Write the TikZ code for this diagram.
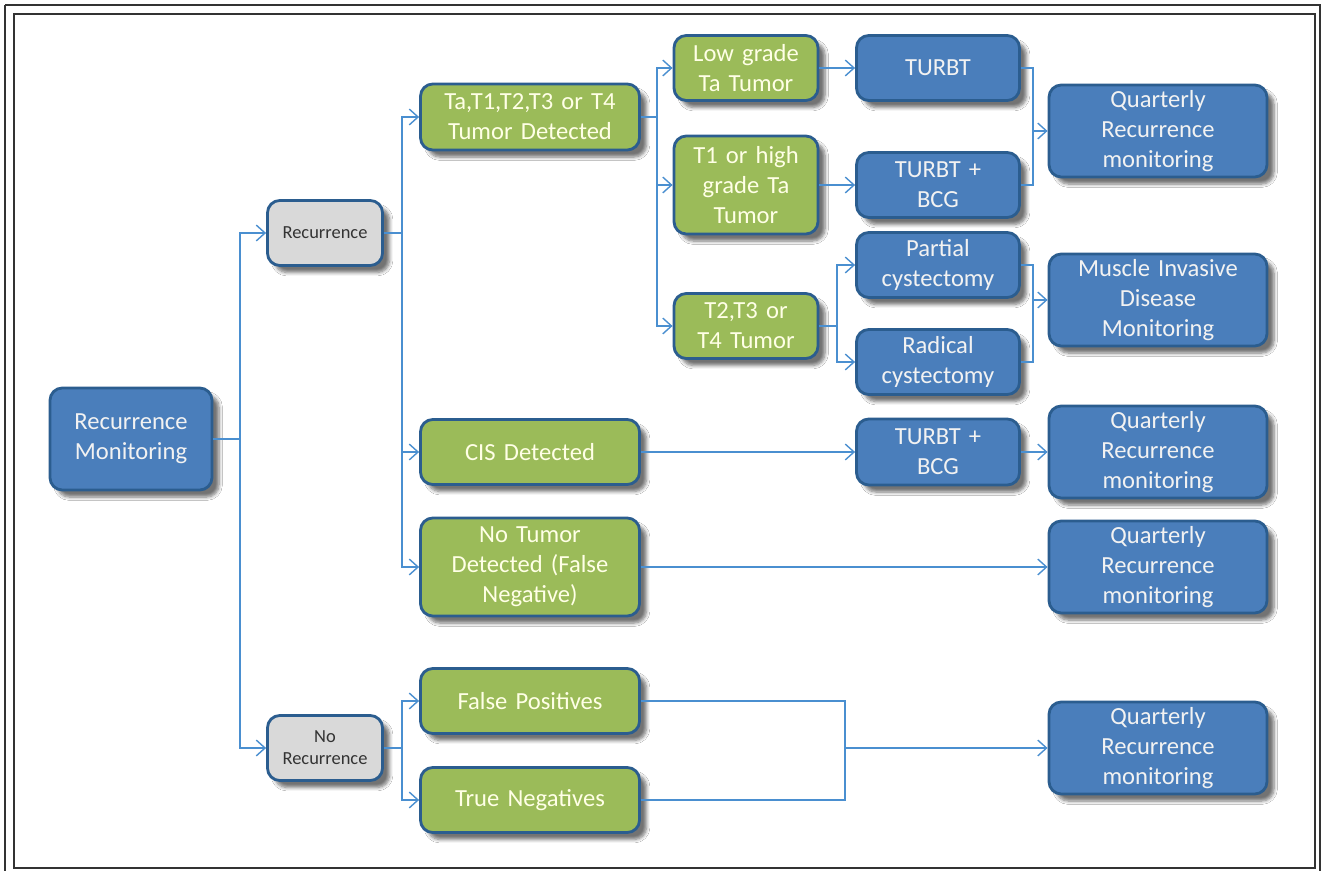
\documentclass[tikz,border=0pt]{standalone}
\usepackage{fontspec}
\setmainfont{Carlito}[WordSpace=0.8]
\usetikzlibrary{arrows.meta,shadows,shadows.blur}
\definecolor{bluefill}{HTML}{4A7EBB}
\definecolor{greenfill}{HTML}{9BBB59}
\definecolor{grayfill}{HTML}{D9D9D9}
\definecolor{edgecol}{HTML}{2B5D8F}
\definecolor{conncol}{HTML}{4A8FD0}
\definecolor{greentext}{HTML}{FFFFE6}
\definecolor{bluetext}{HTML}{F2F2F2}
\definecolor{frame}{HTML}{333333}
\tikzset{
  box/.style={rounded corners=7pt, line width=1.6pt, draw=edgecol, align=center, inner sep=1pt,
    blur shadow={shadow xshift=4pt, shadow yshift=-4pt, shadow blur steps=6, shadow opacity=55}},
  bluebox/.style={box, fill=bluefill, text=bluetext, font=\fontsize{14}{17.2}\selectfont},
  greenbox/.style={box, fill=greenfill, text=greentext, font=\fontsize{14}{17.2}\selectfont},
  graybox/.style={box, fill=grayfill, text=black!80, font=\fontsize{10.5}{12.5}\selectfont},
  sz/.style 2 args={minimum width=#1*0.02cm, minimum height=#2*0.02cm, text width=#1*0.02cm-4pt},
  conn/.style={draw=conncol, line width=0.8pt, -{Straight Barb[length=5pt,width=9pt,line width=0.8pt]}},
  line/.style={draw=conncol, line width=0.8pt},
}
\begin{document}
\begin{tikzpicture}[x=0.02cm, y=-0.02cm]
\useasboundingbox (0,0) rectangle (1326,871);
\fill[white] (0,0) rectangle (1326,871);
% frame
\draw[frame, line width=1.1pt] (5,5) -- (1320,5) -- (1320,880);
\draw[frame, line width=1.1pt] (5,880) -- (5,5);
\draw[frame, line width=1.1pt] (14,14) rectangle (1315,868);

% column 1
\node[bluebox, sz={162}{102}] (rm) at (131,439) {Recurrence\\Monitoring};
% column 2
\node[graybox, sz={115}{65}] (rec) at (325,233) {Recurrence};
\node[graybox, sz={115}{65}] (norec) at (325,748) {No\\Recurrence};
% column 3
\node[greenbox, sz={219}{66}] (ta) at (530,117) {Ta,T1,T2,T3 or T4\\Tumor Detected};
\node[greenbox, sz={219}{65}] (cis) at (530,452) {CIS Detected};
\node[greenbox, sz={219}{98}] (notum) at (530,567) {No Tumor\\Detected (False\\Negative)};
\node[greenbox, sz={219}{65}] (fp) at (530,701) {False Positives};
\node[greenbox, sz={219}{65}] (tn) at (530,800) {True Negatives};
% column 4
\node[greenbox, sz={144}{65}] (low) at (746,68) {Low grade\\Ta Tumor};
\node[greenbox, sz={144}{98}] (t1) at (746,185) {T1 or high\\grade Ta\\Tumor};
\node[greenbox, sz={144}{65}] (t2) at (746,326) {T2,T3 or\\T4 Tumor};
% column 5
\node[bluebox, sz={163}{65}] (turbt) at (938,68) {TURBT};
\node[bluebox, sz={163}{65}] (bcg1) at (938,185) {TURBT +\\BCG};
\node[bluebox, sz={163}{65}] (part) at (938,265) {Partial\\cystectomy};
\node[bluebox, sz={163}{65}] (rad) at (938,362) {Radical\\cystectomy};
\node[bluebox, sz={163}{66}] (bcg2) at (938,452) {TURBT +\\BCG};
% column 6
\node[bluebox, sz={218}{92}] (q1) at (1158,131) {Quarterly\\Recurrence\\monitoring};
\node[bluebox, sz={218}{92}] (mid) at (1158,300) {Muscle Invasive\\Disease\\Monitoring};
\node[bluebox, sz={218}{92}] (q2) at (1158,452) {Quarterly\\Recurrence\\monitoring};
\node[bluebox, sz={218}{92}] (q3) at (1158,567) {Quarterly\\Recurrence\\monitoring};
\node[bluebox, sz={218}{92}] (q4) at (1158,748) {Quarterly\\Recurrence\\monitoring};

% junctions
\coordinate (j1) at (240,439);
\coordinate (j2) at (402,233);
\coordinate (j3) at (402,748);
\coordinate (j4) at (657,117);
\coordinate (j5) at (837,326);
\coordinate (m1) at (1033,131);
\coordinate (m2) at (1033,300);
\coordinate (m3) at (845,748);

% connectors
\draw[line] (rm.east) -- (j1);
\draw[conn] (j1) |- (rec.west);
\draw[conn] (j1) |- (norec.west);

\draw[line] (rec.east) -- (j2);
\draw[conn] (j2) |- (ta.west);
\draw[conn] (j2) |- (cis.west);
\draw[conn] (j2) |- (notum.west);

\draw[line] (norec.east) -- (j3);
\draw[conn] (j3) |- (fp.west);
\draw[conn] (j3) |- (tn.west);

\draw[line] (ta.east) -- (j4);
\draw[conn] (j4) |- (low.west);
\draw[conn] (j4) |- (t1.west);
\draw[conn] (j4) |- (t2.west);

\draw[conn] (low.east) -- (turbt.west);
\draw[conn] (t1.east) -- (bcg1.west);

\draw[line] (t2.east) -- (j5);
\draw[conn] (j5) |- (part.west);
\draw[conn] (j5) |- (rad.west);

\draw[line] (turbt.east) -| (m1);
\draw[line] (bcg1.east) -| (m1);
\draw[conn] (m1) -- (q1.west);

\draw[line] (part.east) -| (m2);
\draw[line] (rad.east) -| (m2);
\draw[conn] (m2) -- (mid.west);

\draw[conn] (cis.east) -- (bcg2.west);
\draw[conn] (bcg2.east) -- (q2.west);
\draw[conn] (notum.east) -- (q3.west);

\draw[line] (fp.east) -| (m3);
\draw[line] (tn.east) -| (m3);
\draw[conn] (m3) -- (q4.west);
\end{tikzpicture}
\end{document}
